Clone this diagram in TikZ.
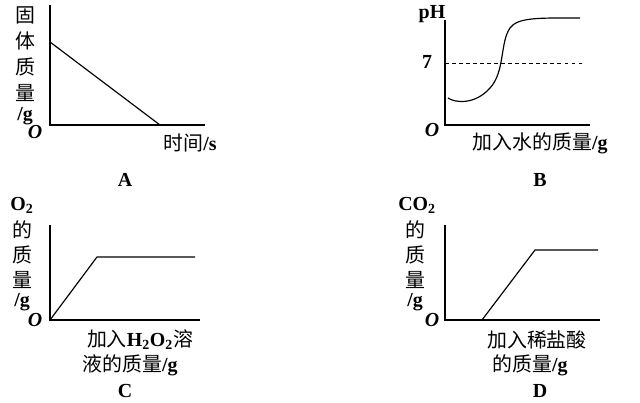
\documentclass[tikz,border=0pt]{standalone}
\usepackage{fontspec}
\setmainfont{Liberation Serif}
\newfontfamily\cjk{Noto Sans CJK SC}
\usetikzlibrary{positioning}
\tikzset{lbl/.style={inner sep=0pt,font=\fontsize{17}{19}\selectfont\bfseries},
  axis/.style={line width=1pt},
  graph/.style={line width=1pt}}
\newcommand{\zh}[1]{{\cjk\mdseries #1}}
\begin{document}
\begin{tikzpicture}[x=0.03cm,y=-0.03cm]
\useasboundingbox (0,0) rectangle (640,403);
% panel A
\coordinate (oA) at (50,125);
\draw[axis] (50,5) -- (oA) -- (205,125);
\draw[graph] (50,42) -- (160,125);
\node[lbl] (ya1) at (25,15) {\zh{固}};
\node[lbl] (ya2) at (25,41) {\zh{体}};
\node[lbl] (ya3) at (25,67) {\zh{质}};
\node[lbl] (ya4) at (25,93) {\zh{量}};
\node[lbl] (ya5) at (25,116) {/g};
\node[lbl] (oa) at (35,132) {\itshape O};
\node[lbl] (xa) at (190,143) {\zh{时间}/s};
\node[lbl] (capA) at (125,180) {A};
% panel B
\coordinate (oB) at (445,125);
\draw[axis] (445,20) -- (oB) -- (590,125);
\draw[dashed] (445,63) -- (585,63);
\draw[graph] (448,98) .. controls (455,103) and (475,105) .. (490,88)
  .. controls (505,72) and (500,42) .. (510,28)
  .. controls (518,17) and (540,18) .. (580,18);
\node[lbl] (ph) at (432,14) {pH};
\node[lbl] (seven) at (427,62) {7};
\node[lbl] (ob) at (432,130) {\itshape O};
\node[lbl] (xb) at (540,143) {\zh{加入水的质量}/g};
\node[lbl] (capB) at (540,180) {B};
% panel C
\coordinate (oC) at (50,320);
\draw[axis] (50,225) -- (oC) -- (200,320);
\draw[graph] (oC) -- (97,257) -- (195,257);
\node[lbl] (yc1) at (22,205) {O$_{\mathbf 2}$};
\node[lbl] (yc2) at (22,230) {\zh{的}};
\node[lbl] (yc3) at (22,255) {\zh{质}};
\node[lbl] (yc4) at (22,280) {\zh{量}};
\node[lbl] (yc5) at (22,302) {/g};
\node[lbl] (oc) at (35,320) {\itshape O};
\node[lbl] (xc1) at (140,340) {\zh{加入}H$_{\mathbf 2}$O$_{\mathbf 2}$\zh{溶}};
\node[lbl] (xc2) at (130,365) {\zh{液的质量}/g};
\node[lbl] (capC) at (125,391) {C};
% panel D
\coordinate (oD) at (445,320);
\draw[axis] (445,225) -- (oD) -- (600,320);
\draw[graph] (482,320) -- (535,250) -- (598,250);
\node[lbl] (yd1) at (417,205) {CO$_{\mathbf 2}$};
\node[lbl] (yd2) at (415,230) {\zh{的}};
\node[lbl] (yd3) at (415,255) {\zh{质}};
\node[lbl] (yd4) at (415,280) {\zh{量}};
\node[lbl] (yd5) at (415,302) {/g};
\node[lbl] (od) at (432,320) {\itshape O};
\node[lbl] (xd1) at (537,340) {\zh{加入稀盐酸}};
\node[lbl] (xd2) at (530,365) {\zh{的质量}/g};
\node[lbl] (capD) at (540,391) {D};
\end{tikzpicture}
\end{document}
